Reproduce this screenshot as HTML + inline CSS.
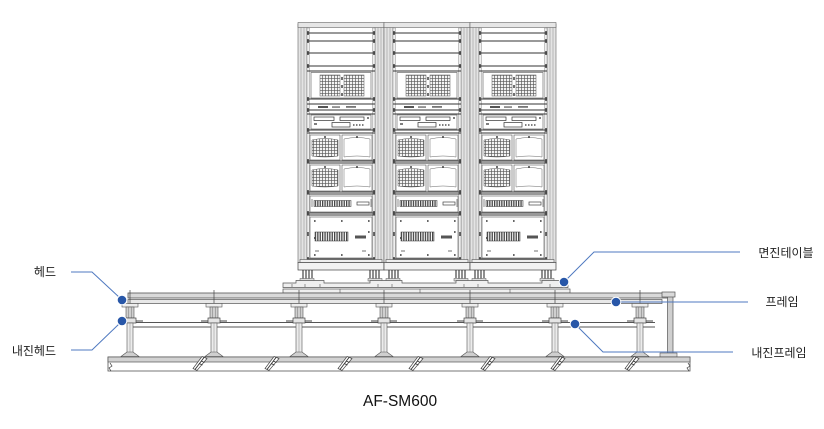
<!DOCTYPE html>
<html>
<head>
<meta charset="utf-8">
<style>
html,body{margin:0;padding:0;background:#fff;}
body{width:824px;height:429px;overflow:hidden;}
svg{display:block;}
.lbl{font-family:"Liberation Sans","Noto Sans CJK KR",sans-serif;font-size:12px;fill:#222;}
</style>
</head>
<body>
<svg width="824" height="429" viewBox="0 0 824 429" xmlns="http://www.w3.org/2000/svg">
<defs>
  <pattern id="grid" width="3" height="3" patternUnits="userSpaceOnUse">
    <rect width="3" height="3" fill="#f4f4f4"/>
    <path d="M0 0.3H3M0.3 0V3" stroke="#555" stroke-width="0.7"/>
  </pattern>
  <pattern id="dense" width="2.4" height="10" patternUnits="userSpaceOnUse">
    <rect width="2.4" height="10" fill="#fff"/>
    <rect x="0" y="0" width="1.3" height="10" fill="#444"/>
  </pattern>
  <g id="rack">
    <!-- posts -->
    <rect x="0" y="24" width="9" height="239" fill="#e4e4e4" stroke="#666" stroke-width="0.6"/>
    <path d="M3 24V263M6 24V263" stroke="#888" stroke-width="0.5"/>
    <rect x="77" y="24" width="9" height="239" fill="#e4e4e4" stroke="#666" stroke-width="0.6"/>
    <path d="M80 24V263M83 24V263" stroke="#888" stroke-width="0.5"/>
    <!-- top cap -->
    <rect x="0" y="22.5" width="86" height="5" fill="#e6e6e6" stroke="#666" stroke-width="0.6"/>
    <!-- inner rails -->
    <rect x="9" y="28" width="2.5" height="232" fill="#f0f0f0" stroke="#777" stroke-width="0.4"/>
    <rect x="74.5" y="28" width="2.5" height="232" fill="#f0f0f0" stroke="#777" stroke-width="0.4"/>
    <!-- horizontal lines -->
    <path d="M9 33H77M9 41H77M9 53H77M9 66H77M9 71H77M9 99H77M9 104H77M9 110H77M9 114H77M9 130H77M9 133H77M9 161H77M9 163H77M9 192H77M9 194H77M9 213H77M9 215H77M9 259H77" stroke="#333" stroke-width="0.9"/>
    <!-- rail mount marks -->
    <path d="M10 31v4M76 31v4M10 39v4M76 39v4M10 51v4M76 51v4M10 64v4M76 64v4M10 97v4M76 97v4M10 108v4M76 108v4M10 128v4M76 128v4M10 159v4M76 159v4M10 190v4M76 190v4M10 211v4M76 211v4M10 232v4M76 232v4M10 257v3M76 257v3" stroke="#333" stroke-width="1.4"/>
    <!-- grille unit -->
    <rect x="13" y="72.5" width="60" height="25.5" fill="#fff" stroke="#555" stroke-width="0.6"/>
    <rect x="22" y="75" width="20" height="21" fill="url(#grid)" stroke="#555" stroke-width="0.5"/>
    <rect x="46" y="75" width="20" height="21" fill="url(#grid)" stroke="#555" stroke-width="0.5"/>
    <path d="M44 77v3M44 85v3M44 93v3" stroke="#333" stroke-width="1.4"/>
    <!-- thin unit 104-110 -->
    <rect x="20" y="106" width="10" height="2" fill="#555"/>
    <rect x="34" y="106.3" width="8" height="1.5" fill="#777"/>
    <rect x="48" y="106" width="10" height="1.8" fill="#777"/>
    <!-- 114-130 unit -->
    <rect x="13" y="115" width="60" height="14" fill="#fff" stroke="#555" stroke-width="0.6"/>
    <rect x="16" y="117" width="20" height="3.5" fill="#fff" stroke="#333" stroke-width="0.7"/>
    <rect x="42" y="117" width="24" height="3.5" fill="#fff" stroke="#333" stroke-width="0.7"/>
    <rect x="34" y="122.5" width="18" height="4.5" fill="#fff" stroke="#333" stroke-width="0.7"/>
    <path d="M55 125h1.5M58 125h1.5M61 125h1.5M64 125h1.5M16 124h3M69 118h2" stroke="#333" stroke-width="1.3"/>
    <!-- drive module 1 -->
    <rect x="12" y="135" width="30" height="25" fill="#fff" stroke="#555" stroke-width="0.6"/>
    <path d="M14 140Q27 137 40 140V156Q27 158 14 156Z" fill="url(#grid)" stroke="#555" stroke-width="0.5"/>
    <rect x="44" y="135" width="30" height="25" fill="#fff" stroke="#555" stroke-width="0.6"/>
    <path d="M46 139Q59 136 72 139V157Q59 155 46 157Z" fill="#fff" stroke="#666" stroke-width="0.5"/>
    <path d="M27 136v2M59 136v2" stroke="#333" stroke-width="1.4"/>
    <!-- drive module 2 -->
    <rect x="12" y="165" width="30" height="26" fill="#fff" stroke="#555" stroke-width="0.6"/>
    <path d="M14 170Q27 167 40 170V186Q27 188 14 186Z" fill="url(#grid)" stroke="#555" stroke-width="0.5"/>
    <rect x="44" y="165" width="30" height="26" fill="#fff" stroke="#555" stroke-width="0.6"/>
    <path d="M46 169Q59 166 72 169V187Q59 185 46 187Z" fill="#fff" stroke="#666" stroke-width="0.5"/>
    <path d="M27 166v2M59 166v2" stroke="#333" stroke-width="1.4"/>
    <!-- patch panel -->
    <rect x="12" y="196" width="62" height="16" fill="#fff" stroke="#555" stroke-width="0.6"/>
    <rect x="16" y="200.5" width="37" height="6" fill="url(#dense)" stroke="#333" stroke-width="0.5"/>
    <rect x="59" y="202" width="12" height="3" fill="#fff" stroke="#444" stroke-width="0.7"/>
    <path d="M14 199v8M73 199v8" stroke="#444" stroke-width="0.6"/>
    <!-- big panel -->
    <rect x="12" y="217" width="62" height="41" fill="#fff" stroke="#555" stroke-width="0.6"/>
    <path d="M16 221h1.6M43 221h1.6M70 221h1.6M16 255h1.6M43 255h1.6M70 255h1.6M16 238h1.6M70 232h1.6" stroke="#333" stroke-width="1.6"/>
    <rect x="17" y="232" width="33" height="9" fill="url(#dense)" stroke="#333" stroke-width="0.5"/>
    <rect x="57" y="235.5" width="11" height="3" fill="#555"/>
    <path d="M17 251h4M64 251h4" stroke="#444" stroke-width="0.8"/>
    <!-- plinth -->
    <rect x="2" y="259.5" width="82" height="3" fill="#eee" stroke="#555" stroke-width="0.6"/>
    <rect x="0" y="262.5" width="86" height="7.5" fill="#f2f2f2" stroke="#444" stroke-width="0.7"/>
    <!-- feet -->
    <path d="M5 270v9M8 270v10M11 270v9M14 270v8M72 270v8M75 270v9M78 270v10M81 270v9" stroke="#333" stroke-width="1.1"/>
    <rect x="2" y="278.5" width="14" height="2.5" fill="#ddd" stroke="#555" stroke-width="0.5"/>
    <rect x="70" y="278.5" width="14" height="2.5" fill="#ddd" stroke="#555" stroke-width="0.5"/>
  </g>
  <g id="ped">
    <line x1="0" y1="290" x2="0" y2="308" stroke="#444" stroke-width="0.7"/>
    <rect x="-8" y="303.5" width="16" height="3.5" fill="#eee" stroke="#555" stroke-width="0.6"/>
    <rect x="-4" y="307" width="8" height="11" fill="#cfcfcf" stroke="#555" stroke-width="0.6"/>
    <path d="M-1.5 307V318M1.5 307V318" stroke="#777" stroke-width="0.5"/>
    <line x1="-13" y1="321" x2="13" y2="321" stroke="#444" stroke-width="0.9"/>
    <rect x="-6" y="318" width="12" height="5" fill="#e5e5e5" stroke="#444" stroke-width="0.7"/>
    <rect x="-3" y="323" width="6" height="30" fill="#ececec" stroke="#555" stroke-width="0.6"/>
    <line x1="0" y1="323" x2="0" y2="353" stroke="#888" stroke-width="0.5"/>
    <path d="M-3 352L-9 356.5H9L3 352Z" fill="#cfcfcf" stroke="#555" stroke-width="0.6"/>
  </g>
  <g id="slash">
    <path d="M2 -0.5L7 1.5L-3 13.5L-7 11.5Z" fill="#fff" stroke="#444" stroke-width="0.7"/>
    <path d="M4 0.5L-5 12.5M1 4L4.5 5.5M-1 6.5L2.5 8" stroke="#333" stroke-width="0.9"/>
  </g>
</defs>

<rect width="824" height="429" fill="#fff"/>

<!-- racks -->
<use href="#rack" x="298"/>
<use href="#rack" x="384"/>
<use href="#rack" x="470"/>

<!-- seismic isolation table -->
<path d="M283 283H296V280.5H324V283H370V280.5H402V283H456V280.5H488V283H542V280.5H568V287.5H283Z" fill="#efefef" stroke="#555" stroke-width="0.7"/>
<rect x="283" y="289" width="287" height="4" fill="#efefef" stroke="#555" stroke-width="0.7"/>
<path d="M292 284v3M305 284v3M320 284v3M340 289v4M378 284v3M392 284v3M420 289v4M464 284v3M478 284v3M510 289v4M550 284v3M562 284v3" stroke="#555" stroke-width="0.6"/>

<!-- frame beam -->
<rect x="128" y="293" width="541" height="5" fill="#d9d9d9" stroke="#555" stroke-width="0.8"/>
<rect x="128" y="299.5" width="534" height="4" fill="#e8e8e8" stroke="#555" stroke-width="0.7"/>
<!-- right end leg -->
<rect x="667.5" y="293" width="5.5" height="63" fill="#cfcfcf" stroke="#555" stroke-width="0.7"/>
<rect x="662" y="292" width="13" height="5" fill="#d9d9d9" stroke="#555" stroke-width="0.7"/>
<rect x="660" y="353" width="17" height="4" fill="#d9d9d9" stroke="#555" stroke-width="0.6"/>

<!-- inner frame -->
<path d="M128 322.5H655M128 327H655" stroke="#555" stroke-width="0.9"/>

<!-- pedestals -->
<use href="#ped" x="130"/>
<use href="#ped" x="214"/>
<use href="#ped" x="299"/>
<use href="#ped" x="384"/>
<use href="#ped" x="470"/>
<use href="#ped" x="555"/>
<use href="#ped" x="640"/>

<!-- floor slab -->
<rect x="108" y="357" width="582" height="14" fill="#fff" stroke="#555" stroke-width="0.8"/>
<rect x="108" y="357" width="582" height="5" fill="#d2d2d2" stroke="#555" stroke-width="0.7"/>
<path d="M110 363l2 3-3 2 2 3M688 363l2 3-3 2 2 3" stroke="#444" stroke-width="0.7" fill="none"/>

<!-- anchors -->
<use href="#slash" x="200" y="357"/>
<use href="#slash" x="272" y="357"/>
<use href="#slash" x="345" y="357"/>
<use href="#slash" x="416" y="357"/>
<use href="#slash" x="488" y="357"/>
<use href="#slash" x="558" y="357"/>
<use href="#slash" x="632" y="357"/>

<!-- annotations -->
<g fill="none" stroke="#4f79c0" stroke-width="1">
  <polyline points="71,272 92,272 120,298"/>
  <polyline points="71,350 92,350 119,324"/>
  <polyline points="566,280 594,252 740,252"/>
  <polyline points="616,302 748,302"/>
  <polyline points="577,326 603,352 733,352"/>
</g>
<g fill="#2857a8" stroke="#fff" stroke-width="1">
  <circle cx="122" cy="300" r="4.8"/>
  <circle cx="122" cy="321" r="4.8"/>
  <circle cx="564" cy="282" r="4.8"/>
  <circle cx="616" cy="302" r="4.8"/>
  <circle cx="575" cy="324" r="4.8"/>
</g>

<!-- labels -->
<text class="lbl" x="56" y="276" text-anchor="end">헤드</text>
<text class="lbl" x="56" y="355" text-anchor="end">내진헤드</text>
<text class="lbl" x="786" y="257" text-anchor="middle">면진테이블</text>
<text class="lbl" x="782" y="306" text-anchor="middle">프레임</text>
<text class="lbl" x="779" y="357" text-anchor="middle">내진프레임</text>

<text x="363" y="406" font-family="'Liberation Sans','Noto Sans CJK KR',sans-serif" font-size="15.5" fill="#111">AF-SM600</text>
</svg>
</body>
</html>
